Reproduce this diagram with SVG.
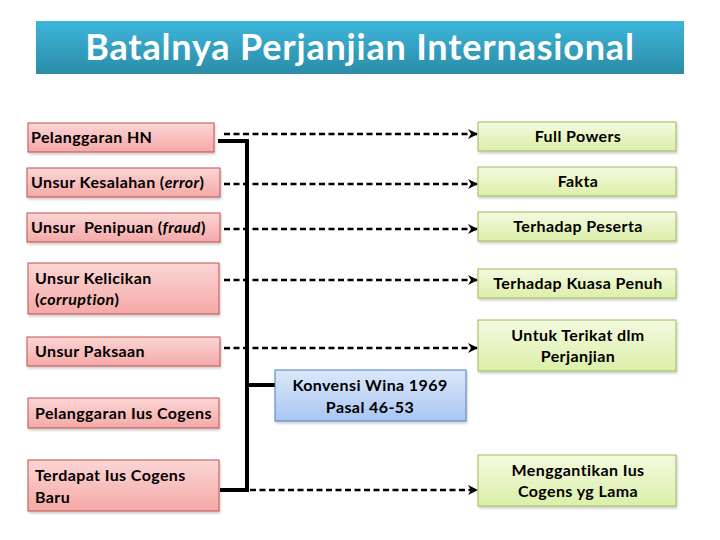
<svg xmlns="http://www.w3.org/2000/svg" width="720" height="540" viewBox="0 0 720 540">
<defs>
<linearGradient id="gTitle" x1="0" y1="0" x2="0" y2="1"><stop offset="0" stop-color="#3DB6DC"/><stop offset="1" stop-color="#2B8CA6"/></linearGradient>
<linearGradient id="gPink" x1="0" y1="0" x2="0" y2="1"><stop offset="0" stop-color="#FBD6D5"/><stop offset="1" stop-color="#F4A9A7"/></linearGradient>
<linearGradient id="gGreen" x1="0" y1="0" x2="0" y2="1"><stop offset="0" stop-color="#F3FADF"/><stop offset="1" stop-color="#DCEFA9"/></linearGradient>
<linearGradient id="gBlue" x1="0" y1="0" x2="0" y2="1"><stop offset="0" stop-color="#DCE8FB"/><stop offset="1" stop-color="#A9C6F1"/></linearGradient>
<filter id="sh" x="-5%" y="-10%" width="110%" height="130%"><feDropShadow dx="1" dy="2" stdDeviation="1.2" flood-color="#000" flood-opacity="0.2"/></filter>
<marker id="arr" viewBox="0 0 10 10" refX="9" refY="5" markerWidth="4" markerHeight="4" orient="auto" markerUnits="strokeWidth"><path d="M0,0 L10,5 L0,10 L3,5 z" fill="#000"/></marker>
</defs>
<style>
.t{font-family:Lato,"Open Sans","Liberation Sans",sans-serif;font-weight:bold;font-size:16px;letter-spacing:0.4px;fill:#000}
.c{text-anchor:middle}
.pink{fill:url(#gPink);stroke:#C0504D;stroke-width:1;filter:url(#sh)}
.green{fill:url(#gGreen);stroke:#9BBB59;stroke-width:1;filter:url(#sh)}
.blue{fill:url(#gBlue);stroke:#4F81BD;stroke-width:1;filter:url(#sh)}
.dash{stroke:#000;stroke-width:2.5;stroke-dasharray:6 3.5;fill:none;marker-end:url(#arr)}
.thick{stroke:#000;stroke-width:4;fill:none}
</style>
<rect width="720" height="540" fill="#fff"/>
<g id="title">
<rect x="36" y="21" width="648" height="53" fill="url(#gTitle)"/>
<text x="360" y="60" text-anchor="middle" style="font-family:Lato,'Open Sans','Liberation Sans',sans-serif;font-weight:bold;font-size:36px;letter-spacing:0.8px;fill:#fff">Batalnya Perjanjian Internasional</text>
</g>
<g id="connectors">
<polyline class="thick" points="218,141 247,141 247,490 220,490"/>
<line class="thick" x1="247" y1="385" x2="275" y2="385"/>
<line class="dash" x1="224" y1="134" x2="477" y2="134"/>
<line class="dash" x1="224" y1="184" x2="477" y2="184"/>
<line class="dash" x1="224" y1="229" x2="477" y2="229"/>
<line class="dash" x1="224" y1="280" x2="477" y2="280"/>
<line class="dash" x1="224" y1="348" x2="477" y2="348"/>
<line class="dash" x1="250" y1="490" x2="477" y2="490"/>
</g>
<g id="l1"><rect class="pink" x="28" y="123" width="186" height="29"/><text class="t" x="31" y="143">Pelanggaran HN</text></g>
<g id="l2"><rect class="pink" x="27" y="168" width="193" height="29"/><text class="t" x="31" y="188">Unsur Kesalahan (<tspan font-style="italic">error</tspan>)</text></g>
<g id="l3"><rect class="pink" x="27" y="213" width="193" height="29"/><text class="t" x="31" y="233" xml:space="preserve">Unsur  Penipuan (<tspan font-style="italic">fraud</tspan>)</text></g>
<g id="l4"><rect class="pink" x="28" y="263" width="191" height="51"/><text class="t" x="35" y="284">Unsur Kelicikan</text><text class="t" x="35" y="305">(<tspan font-style="italic">corruption</tspan>)</text></g>
<g id="l5"><rect class="pink" x="27" y="337" width="193" height="29"/><text class="t" x="35" y="357">Unsur Paksaan</text></g>
<g id="l6"><rect class="pink" x="28" y="398" width="191" height="30"/><text class="t" x="35" y="419">Pelanggaran Ius Cogens</text></g>
<g id="l7"><rect class="pink" x="28" y="460" width="191" height="51"/><text class="t" x="35" y="481">Terdapat Ius Cogens</text><text class="t" x="35" y="503">Baru</text></g>
<g id="konvensi"><rect class="blue" x="275" y="370" width="191" height="51"/><text class="t c" x="370" y="391">Konvensi Wina 1969</text><text class="t c" x="370" y="413">Pasal 46-53</text></g>
<g id="r1"><rect class="green" x="478" y="122" width="198" height="29"/><text class="t c" x="578" y="142">Full Powers</text></g>
<g id="r2"><rect class="green" x="478" y="167" width="198" height="29"/><text class="t c" x="578" y="187">Fakta</text></g>
<g id="r3"><rect class="green" x="478" y="212" width="198" height="29"/><text class="t c" x="578" y="232">Terhadap Peserta</text></g>
<g id="r4"><rect class="green" x="478" y="269" width="198" height="29"/><text class="t c" x="578" y="289">Terhadap Kuasa Penuh</text></g>
<g id="r5"><rect class="green" x="478" y="320" width="198" height="51"/><text class="t c" x="578" y="341">Untuk Terikat dlm</text><text class="t c" x="578" y="362">Perjanjian</text></g>
<g id="r6"><rect class="green" x="478" y="455" width="198" height="51"/><text class="t c" x="578" y="476">Menggantikan Ius</text><text class="t c" x="578" y="497">Cogens yg Lama</text></g>
</svg>
